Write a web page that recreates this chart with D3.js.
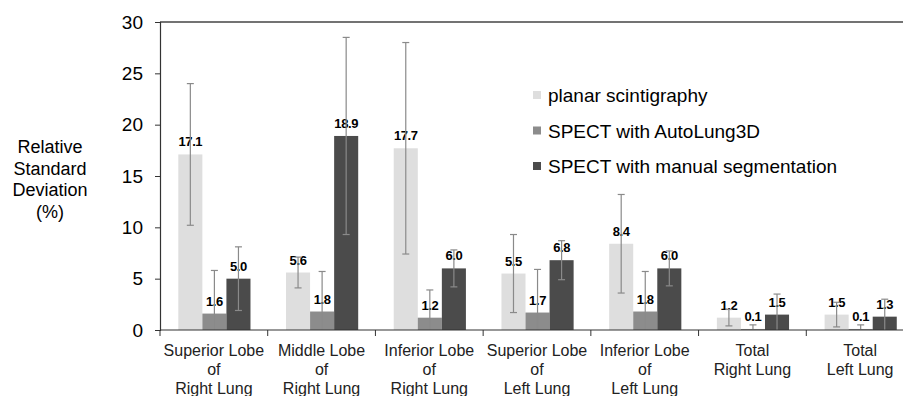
<!DOCTYPE html>
<html>
<head>
<meta charset="utf-8">
<script src="https://cdn.jsdelivr.net/npm/d3@7"></script>
<style>
  body { margin: 0; background: #fff; }
  text { font-family: "Liberation Sans", Arial, sans-serif; }
</style>
</head>
<body>
<script>
// categories (each label split in lines)
const categories = [
    ["Superior Lobe", "of", "Right Lung"],
    ["Middle Lobe", "of", "Right Lung"],
    ["Inferior Lobe", "of", "Right Lung"],
    ["Superior Lobe", "of", "Left Lung"],
    ["Inferior Lobe", "of", "Left Lung"],
    ["Total", "Right Lung"],
    ["Total", "Left Lung"]
];
const seriesNames = ["planar scintigraphy", "SPECT with AutoLung3D", "SPECT with manual segmentation"];
const planar = [17.1, 5.6, 17.7, 5.5, 8.4, 1.2, 1.5];
const autoLung = [1.6, 1.8, 1.2, 1.7, 1.8, 0.1, 0.1];
const manual = [5.0, 18.9, 6.0, 6.8, 6.0, 1.5, 1.3];
const planarErr = [6.9, 1.5, 10.3, 3.8, 4.8, 0.8, 1.2];
const autoLungErr = [4.2, 3.9, 2.7, 4.2, 3.9, 0.4, 0.4];
const manualErr = [3.1, 9.6, 1.8, 1.9, 1.7, 2.0, 1.7];
const yTicks = [0, 5, 10, 15, 20, 25, 30];
const yTitle = ["Relative", "Standard", "Deviation", "(%)"];

const colors = ["#dedede", "#8c8c8c", "#4b4b4b"];
const values = [planar, autoLung, manual];
const errors = [planarErr, autoLungErr, manualErr];

const W = 903, H = 396;
const svg = d3.select("body").append("svg")
    .attr("width", W)
    .attr("height", H);

// plot area runs past the right edge (cropped like the original)
const x0 = d3.scaleBand().domain(d3.range(categories.length)).range([160, 914]).paddingInner(0);
const bw = x0.bandwidth();
const x1 = d3.scaleBand().domain(d3.range(3)).range([bw * 0.17, bw * 0.84]);
const y = d3.scaleLinear().domain([0, 30]).range([330, 22]);

// top frame line
svg.append("line")
    .attr("x1", 160).attr("x2", W)
    .attr("y1", y(30)).attr("y2", y(30))
    .attr("stroke", "#444").attr("stroke-width", 1.5);

// y axis
const yAxis = svg.append("g")
    .attr("transform", "translate(160,0)")
    .call(d3.axisLeft(y).tickValues(yTicks).tickSize(5).tickPadding(12));
yAxis.select(".domain").attr("stroke", "#333").attr("stroke-width", 1.2);
yAxis.selectAll(".tick line").attr("stroke", "#333");
yAxis.selectAll(".tick text")
    .attr("font-size", 19)
    .attr("fill", "#000")
    .attr("font-family", "Liberation Sans, Arial, sans-serif");

// bars
const groups = svg.selectAll("g.cat").data(categories)
    .enter().append("g")
    .attr("class", "cat")
    .attr("transform", (d, i) => "translate(" + x0(i) + ",0)");

const cells = groups.selectAll("g.cell")
    .data((d, i) => d3.range(3).map(s => ({s: s, v: values[s][i], e: errors[s][i]})))
    .enter().append("g").attr("class", "cell");

cells.append("rect")
    .attr("x", d => x1(d.s))
    .attr("width", x1.bandwidth())
    .attr("y", d => y(d.v))
    .attr("height", d => y(0) - y(d.v))
    .attr("fill", d => colors[d.s]);

// value labels
cells.append("text")
    .attr("x", d => x1(d.s) + x1.bandwidth() / 2)
    .attr("y", d => y(d.v) - 8)
    .attr("text-anchor", "middle")
    .attr("font-size", 13)
    .attr("font-weight", "bold")
    .attr("letter-spacing", -0.4)
    .attr("fill", "#000")
    .text(d => d.v.toFixed(1));

// error bars
const err = cells.append("g")
    .attr("stroke", "#8a8a8a")
    .attr("stroke-width", 1.2);
err.append("line")
    .attr("x1", d => x1(d.s) + x1.bandwidth() / 2)
    .attr("x2", d => x1(d.s) + x1.bandwidth() / 2)
    .attr("y1", d => y(Math.max(0, d.v - d.e)))
    .attr("y2", d => y(d.v + d.e));
err.append("line")
    .attr("x1", d => x1(d.s) + x1.bandwidth() / 2 - 3.5)
    .attr("x2", d => x1(d.s) + x1.bandwidth() / 2 + 3.5)
    .attr("y1", d => y(d.v + d.e))
    .attr("y2", d => y(d.v + d.e));
err.filter(d => d.v - d.e >= 0).append("line")
    .attr("x1", d => x1(d.s) + x1.bandwidth() / 2 - 3.5)
    .attr("x2", d => x1(d.s) + x1.bandwidth() / 2 + 3.5)
    .attr("y1", d => y(d.v - d.e))
    .attr("y2", d => y(d.v - d.e));

// x axis
svg.append("line")
    .attr("x1", 160).attr("x2", W)
    .attr("y1", y(0)).attr("y2", y(0))
    .attr("stroke", "#333").attr("stroke-width", 1.2);
svg.selectAll("line.xtick").data(d3.range(categories.length + 1))
    .enter().append("line")
    .attr("class", "xtick")
    .attr("x1", i => 160 + i * bw).attr("x2", i => 160 + i * bw)
    .attr("y1", y(0)).attr("y2", y(0) + 6)
    .attr("stroke", "#333");

// category labels
groups.append("text")
    .attr("text-anchor", "middle")
    .attr("font-size", 16)
    .attr("fill", "#222")
    .selectAll("tspan")
    .data(d => d)
    .enter().append("tspan")
    .attr("x", bw / 2)
    .attr("y", (d, i) => 356 + i * 19)
    .text(d => d);

// y title
svg.append("text")
    .attr("text-anchor", "middle")
    .attr("font-size", 18)
    .attr("fill", "#000")
    .selectAll("tspan")
    .data(yTitle)
    .enter().append("tspan")
    .attr("x", 50)
    .attr("y", (d, i) => 153 + i * 21.5)
    .text(d => d);

// legend
const legend = svg.selectAll("g.legend").data(seriesNames)
    .enter().append("g")
    .attr("class", "legend")
    .attr("transform", (d, i) => "translate(533," + (102 + i * 35.5) + ")");
legend.append("rect")
    .attr("x", 0).attr("y", -11)
    .attr("width", 8).attr("height", 8)
    .attr("fill", (d, i) => colors[i]);
legend.append("text")
    .attr("x", 15)
    .attr("font-size", 19)
    .attr("fill", "#000")
    .text(d => d);
</script>
</body>
</html>
